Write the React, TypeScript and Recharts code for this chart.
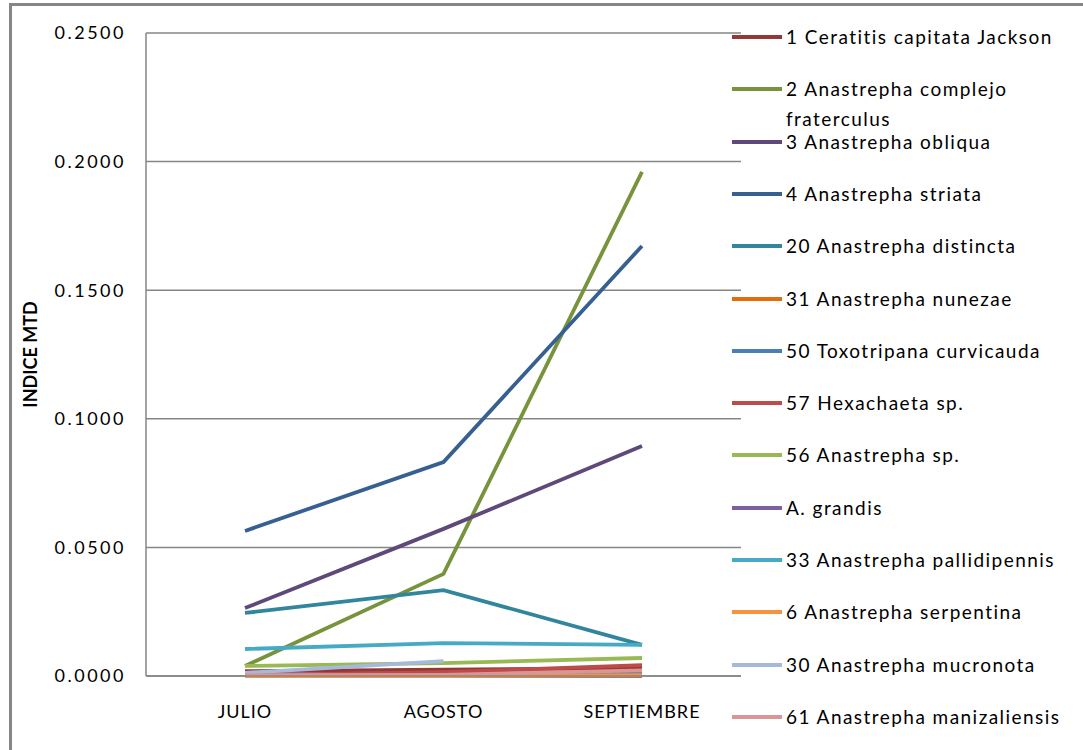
import React from 'react';
import { LineChart, Line, XAxis, YAxis, CartesianGrid, Legend } from 'recharts';

const months = ['JULIO', 'AGOSTO', 'SEPTIEMBRE'];

const ceratitis = [0.0019, 0.0025, 0.003];
const fraterculus = [0.0039, 0.0397, 0.196];
const obliqua = [0.0264, 0.0572, 0.0894];
const striata = [0.0564, 0.0832, 0.1672];
const distincta = [0.0245, 0.0334, 0.0121];
const nunezae = [0, 0, 0];
const toxotripana = [0.0005, 0.0012, 0.001];
const hexachaeta = [0.0003, 0.0015, 0.0042];
const anastrephaSp = [0.0039, 0.005, 0.007];
const grandis = [0, 0, 0.0001];
const pallidipennis = [0.0105, 0.0128, 0.0121];
const serpentina = [0, 0, 0.0003];
const mucronota = [0.0012, 0.0058, null];
const manizaliensis = [0.0003, 0.0004, 0.0022];

const yTicks = [0, 0.05, 0.1, 0.15, 0.2, 0.25];

const series = [
  { key: 's1', name: '1 Ceratitis capitata Jackson', color: '#953735', values: ceratitis },
  { key: 's2', name: '2 Anastrepha complejo fraterculus', color: '#77933C', values: fraterculus },
  { key: 's3', name: '3 Anastrepha obliqua', color: '#5F497A', values: obliqua },
  { key: 's4', name: '4 Anastrepha striata', color: '#376092', values: striata },
  { key: 's5', name: '20 Anastrepha distincta', color: '#31859C', values: distincta },
  { key: 's6', name: '31 Anastrepha nunezae', color: '#E46C0A', values: nunezae },
  { key: 's7', name: '50 Toxotripana curvicauda', color: '#4A7EBB', values: toxotripana },
  { key: 's8', name: '57 Hexachaeta sp.', color: '#BE4B48', values: hexachaeta },
  { key: 's9', name: '56 Anastrepha sp.', color: '#98B954', values: anastrephaSp },
  { key: 's10', name: 'A. grandis', color: '#7D60A0', values: grandis },
  { key: 's11', name: '33 Anastrepha pallidipennis', color: '#46AAC5', values: pallidipennis },
  { key: 's12', name: '6 Anastrepha serpentina', color: '#F69240', values: serpentina },
  { key: 's13', name: '30 Anastrepha mucronota', color: '#A7B9DB', values: mucronota },
  { key: 's14', name: '61 Anastrepha manizaliensis', color: '#DA9695', values: manizaliensis },
];

const data = months.map((m, i) => {
  const row: any = { month: m };
  series.forEach((s) => {
    row[s.key] = s.values[i];
  });
  return row;
});

const FONT = 'Lato, "Open Sans", sans-serif';
const GRAY = '#868686';

const renderLegend = () => (
  <div style={{ position: 'relative', width: 350, height: 740, fontFamily: FONT }}>
    {series.map((s, i) => (
      <div
        key={s.key}
        style={{
          position: 'absolute',
          left: 0,
          top: i * 52.3,
          display: 'flex',
          alignItems: 'flex-start',
        }}
      >
        <div style={{ width: 50, height: 30, display: 'flex', alignItems: 'center' }}>
          <div style={{ width: 50, height: 4, background: s.color }} />
        </div>
        <div
          style={{
            marginLeft: 4,
            width: 292,
            fontSize: 19,
            lineHeight: '30px',
            color: '#000',
            letterSpacing: 1.45,
          }}
        >
          {s.name}
        </div>
      </div>
    ))}
  </div>
);

const YLabel = ({ viewBox }: any) => {
  const cx = 30;
  const cy = viewBox.y + viewBox.height / 2;
  return (
    <text
      x={cx}
      y={cy}
      transform={`rotate(-90 ${cx} ${cy})`}
      textAnchor="middle"
      dominantBaseline="central"
      fontFamily={FONT}
      fontWeight="bold"
      fontSize={18}
      fill="#000"
    >
      INDICE MTD
    </text>
  );
};

export default function App() {
  return (
    <div
      style={{
        position: 'fixed',
        left: 0,
        top: 0,
        width: 1083,
        height: 750,
        overflow: 'hidden',
        background: '#fff',
        fontFamily: FONT,
      }}
    >
      <div
        style={{
          position: 'absolute',
          left: 9,
          top: 3,
          width: 1300,
          height: 900,
          borderLeft: `3px solid ${GRAY}`,
          borderTop: `3px solid ${GRAY}`,
        }}
      />
      <div style={{ position: 'absolute', left: 0, top: 0 }}>
        <LineChart
          width={1083}
          height={750}
          data={data}
          margin={{ top: 33, right: 342, bottom: 14, left: 0 }}
        >
          <CartesianGrid vertical={false} stroke={GRAY} strokeWidth={1.5} />
          <XAxis
            dataKey="month"
            height={60}
            padding={{ left: 99, right: 99 }}
            axisLine={{ stroke: GRAY, strokeWidth: 1.5 }}
            tickLine={false}
            tickSize={0}
            tickMargin={29}
            tick={{ fill: '#000', fontSize: 18, fontFamily: FONT, letterSpacing: 1 }}
            interval={0}
          />
          <YAxis
            width={146}
            domain={[0, 0.25]}
            ticks={yTicks}
            tickFormatter={(v: number) => v.toFixed(4)}
            axisLine={{ stroke: GRAY, strokeWidth: 1.5 }}
            tickLine={false}
            tickSize={0}
            tickMargin={20}
            tick={{ fill: '#000', fontSize: 18, fontFamily: FONT, letterSpacing: 2.5 }}
            label={<YLabel />}
          />
          <Legend
            layout="vertical"
            align="center"
            verticalAlign="middle"
            content={renderLegend}
            wrapperStyle={{ left: 732, top: 22, right: 'auto', width: 350 }}
          />
          {series.map((s) => (
            <Line
              key={s.key}
              type="linear"
              dataKey={s.key}
              name={s.name}
              stroke={s.color}
              strokeWidth={3.8}
              dot={false}
              activeDot={false}
              isAnimationActive={false}
            />
          ))}
        </LineChart>
      </div>
    </div>
  );
}
